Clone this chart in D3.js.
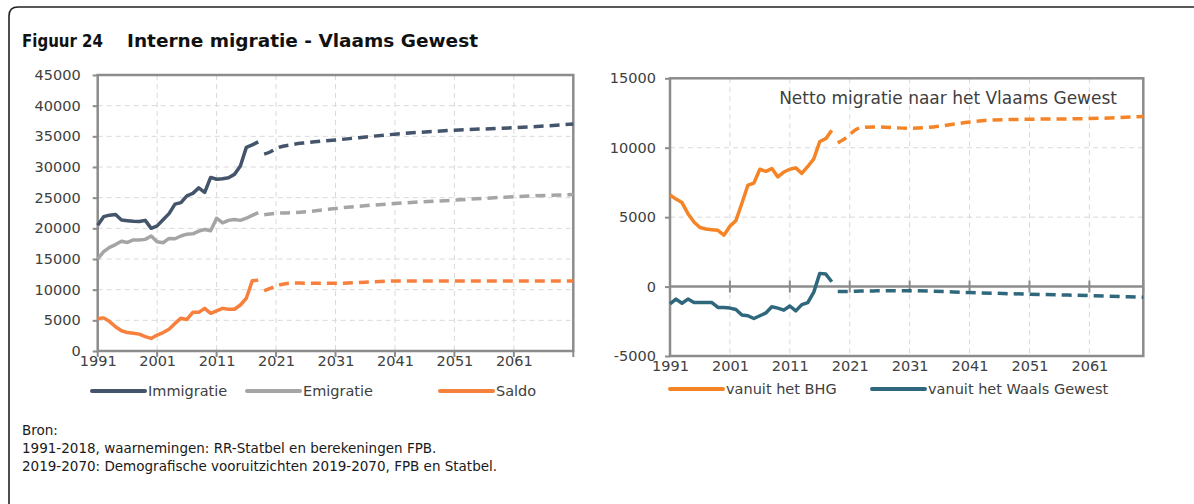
<!DOCTYPE html>
<html>
<head>
  <meta charset="utf-8">
  <title>Interne migratie - Vlaams Gewest</title>
  <script src="https://cdn.jsdelivr.net/npm/d3@7/dist/d3.min.js"></script>
  <style>
    body { margin: 0; background: #fff; }
    svg { display: block; font-family: 'DejaVu Sans', sans-serif; }
    .tick text { fill: #404040; font-size: 14.5px; font-family: 'DejaVu Sans', sans-serif; }
    .grid line { stroke: #d9d9d9; stroke-dasharray: 5 4; stroke-width: 1; }
    .legend text { fill: #404040; font-size: 14.5px; }
    .note { fill: #1a1a1a; font-size: 13.5px; }
  </style>
</head>
<body>
<div id="chart"></div>
<script>
  // ---- data ----
  const histYears = d3.range(1991, 2019);

  // left panel
  const immigratie = [20500, 21900, 22150, 22250, 21350, 21250, 21150, 21100, 21300, 20000,
    20400, 21400, 22400, 23950, 24200, 25300, 25700, 26600, 25850, 28300,
    28000, 28100, 28250, 28800, 30150, 33200, 33600, 34100];
  const emigratie = [15000, 16200, 16900, 17350, 17900, 17700, 18100, 18100, 18200, 18750,
    17800, 17650, 18350, 18300, 18750, 19050, 19100, 19550, 19800, 19600,
    21650, 20900, 21300, 21450, 21300, 21650, 22100, 22550];
  const saldo = [5300, 5400, 4800, 3950, 3300, 3000, 2900, 2750, 2350, 2050,
    2600, 3000, 3550, 4500, 5350, 5150, 6300, 6300, 6950, 6150,
    6550, 6950, 6800, 6800, 7500, 8600, 11450, 11550];

  const projYearsL = [2019, 2020, 2021, 2024, 2026, 2031, 2041, 2051, 2061, 2071];
  const immigratieProj = [32100, 32450, 33000, 33700, 33950, 34400, 35350, 36000, 36400, 37000];
  const emigratieProj = [22200, 22350, 22450, 22550, 22700, 23250, 24050, 24600, 25150, 25500];
  const saldoProj = [9800, 10200, 10600, 11100, 11050, 11050, 11400, 11400, 11400, 11400];

  // right panel
  const bhg = [6600, 6300, 6050, 5250, 4650, 4250, 4150, 4100, 4050, 3700,
    4350, 4750, 6000, 7300, 7450, 8450, 8300, 8500, 7900, 8250,
    8450, 8550, 8150, 8650, 9200, 10450, 10650, 11250];
  const waals = [-1250, -900, -1200, -900, -1150, -1150, -1150, -1150, -1500, -1500,
    -1550, -1650, -2050, -2100, -2300, -2100, -1900, -1450, -1550, -1700,
    -1400, -1750, -1300, -1150, -400, 950, 900, 350];

  const projYearsR = [2019, 2020, 2021, 2022, 2023, 2025, 2028, 2031, 2035, 2041, 2045, 2051, 2061, 2070];
  const bhgProj = [10350, 10600, 10950, 11300, 11450, 11500, 11450, 11400, 11500, 11850, 12000, 12050, 12100, 12250];
  const waalsProj = [-350, -350, -350, -330, -320, -310, -300, -300, -340, -430, -480, -550, -650, -770];

  const decadeTicks = [1991, 2001, 2011, 2021, 2031, 2041, 2051, 2061];
  const yTicksL = d3.range(0, 45001, 5000);
  const yTicksR = [-5000, 0, 5000, 10000, 15000];

  const title = ['Figuur 24', 'Interne migratie - Vlaams Gewest'];
  const panelTitleR = 'Netto migratie naar het Vlaams Gewest';
  const seriesL = ['Immigratie', 'Emigratie', 'Saldo'];
  const seriesR = ['vanuit het BHG', 'vanuit het Waals Gewest'];
  const notes = ['Bron:', '1991-2018, waarnemingen: RR-Statbel en berekeningen FPB.',
    '2019-2070: Demografische vooruitzichten 2019-2070, FPB en Statbel.'];

  // ---- drawing ----
  const W = 1194, H = 504;
  const svg = d3.select('#chart').append('svg').attr('width', W).attr('height', H);

  // outer frame (open to the right and bottom)
  svg.append('path')
    .attr('d', `M9,${H} L9,16 Q9,7 18,7 L${W},7`)
    .attr('fill', 'none').attr('stroke', '#222').attr('stroke-width', 1.6);

  svg.append('text').attr('x', 22).attr('y', 47)
    .style('font-weight', 'bold').style('font-size', '18px').attr('fill', '#111')
    .attr('textLength', 81).attr('lengthAdjust', 'spacingAndGlyphs')
    .text(title[0]);
  svg.append('text').attr('x', 127).attr('y', 47)
    .style('font-weight', 'bold').style('font-size', '18px').attr('fill', '#111')
    .attr('textLength', 351).attr('lengthAdjust', 'spacingAndGlyphs')
    .text(title[1]);

  const fmt = d => String(d);

  function panel(o) {
    const x = d3.scaleLinear().domain(o.xDomain).range([o.left, o.right]);
    const y = d3.scaleLinear().domain(o.yDomain).range([o.bottom, o.top]);
    const g = svg.append('g');

    // gridlines
    g.append('g').attr('class', 'grid').selectAll('line')
      .data(o.yTicks.filter(v => v !== o.yDomain[0] && v !== o.yDomain[1] && v !== 0))
      .join('line')
      .attr('x1', o.left).attr('x2', o.right)
      .attr('y1', d => y(d)).attr('y2', d => y(d));
    g.append('g').attr('class', 'grid').selectAll('line')
      .data(decadeTicks.slice(1))
      .join('line')
      .attr('x1', d => x(d)).attr('x2', d => x(d))
      .attr('y1', o.top).attr('y2', o.bottom);

    // y axis
    const ya = g.append('g').attr('transform', `translate(${o.left},0)`)
      .call(d3.axisLeft(y).tickValues(o.yTicks).tickSize(5).tickPadding(o.yPad).tickFormat(fmt));
    ya.select('.domain').remove();
    ya.selectAll('.tick line').attr('stroke', '#8c8c8c').attr('stroke-width', 2);

    // x axis labels at the bottom
    const xa = g.append('g').attr('transform', `translate(0,${o.bottom})`)
      .call(d3.axisBottom(x).tickValues(decadeTicks).tickSize(0).tickPadding(o.xPad).tickFormat(fmt));
    xa.select('.domain').remove();

    // x tick marks on the horizontal axis line
    g.append('g').selectAll('line')
      .data(decadeTicks.concat(o.xDomain[1]))
      .join('line')
      .attr('x1', d => x(d)).attr('x2', d => x(d))
      .attr('y1', y(o.xAxisAt) - o.tickUp).attr('y2', y(o.xAxisAt) + 6)
      .attr('stroke', '#8c8c8c').attr('stroke-width', 2);

    // frame
    g.append('rect')
      .attr('x', o.left).attr('y', o.top)
      .attr('width', o.right - o.left).attr('height', o.bottom - o.top)
      .attr('fill', 'none').attr('stroke', '#8c8c8c').attr('stroke-width', 2.5);
    if (o.xAxisAt !== o.yDomain[0]) {
      g.append('line')
        .attr('x1', o.left).attr('x2', o.right)
        .attr('y1', y(o.xAxisAt)).attr('y2', y(o.xAxisAt))
        .attr('stroke', '#8c8c8c').attr('stroke-width', 2.5);
    }

    const line = d3.line().x(d => x(d[0])).y(d => y(d[1]));
    const smooth = d3.line().x(d => x(d[0])).y(d => y(d[1])).curve(d3.curveMonotoneX);

    o.series.forEach(s => {
      g.append('path')
        .datum(histYears.map((yr, i) => [yr, s.hist[i]]))
        .attr('d', line)
        .attr('fill', 'none').attr('stroke', s.color).attr('stroke-width', 3.5)
        .attr('stroke-linejoin', 'round');
      g.append('path')
        .datum(o.projYears.map((yr, i) => [yr, s.proj[i]]))
        .attr('d', smooth)
        .attr('fill', 'none').attr('stroke', s.color).attr('stroke-width', 3.5)
        .attr('stroke-dasharray', '10 6');
    });

    // legend
    const lg = g.append('g').attr('class', 'legend');
    o.series.forEach((s, i) => {
      const lx = o.legendX[i];
      lg.append('line')
        .attr('x1', lx).attr('x2', lx + 53)
        .attr('y1', o.legendY).attr('y2', o.legendY)
        .attr('stroke', s.color).attr('stroke-width', 4).attr('stroke-linecap', 'round');
      lg.append('text').attr('x', lx + 56).attr('y', o.legendY + 5).text(s.name);
    });
    return g;
  }

  panel({
    left: 97.7, right: 573.3, top: 75, bottom: 351,
    xDomain: [1991, 2071], yDomain: [0, 45000], yTicks: yTicksL,
    yPad: 12, xPad: 5, xAxisAt: 0, tickUp: 0,
    projYears: projYearsL,
    series: [
      { name: seriesL[0], color: '#44546a', hist: immigratie, proj: immigratieProj },
      { name: seriesL[1], color: '#a5a5a5', hist: emigratie, proj: emigratieProj },
      { name: seriesL[2], color: '#f7803c', hist: saldo, proj: saldoProj }
    ],
    legendX: [92, 247, 440], legendY: 391
  });

  const gR = panel({
    left: 670, right: 1143.3, top: 78.3, bottom: 356,
    xDomain: [1991, 2070], yDomain: [-5000, 15000], yTicks: yTicksR,
    yPad: 9, xPad: 5, xAxisAt: 0, tickUp: 6,
    projYears: projYearsR,
    series: [
      { name: seriesR[0], color: '#f58426', hist: bhg, proj: bhgProj },
      { name: seriesR[1], color: '#2f687c', hist: waals, proj: waalsProj }
    ],
    legendX: [670, 872], legendY: 389
  });

  gR.append('text')
    .attr('x', 1117).attr('y', 104).attr('text-anchor', 'end')
    .attr('fill', '#404040').style('font-size', '17px')
    .text(panelTitleR);

  svg.selectAll('.note').data(notes).join('text')
    .attr('class', 'note')
    .attr('x', 22).attr('y', (d, i) => 435 + i * 18)
    .text(d => d);
</script>
</body>
</html>
